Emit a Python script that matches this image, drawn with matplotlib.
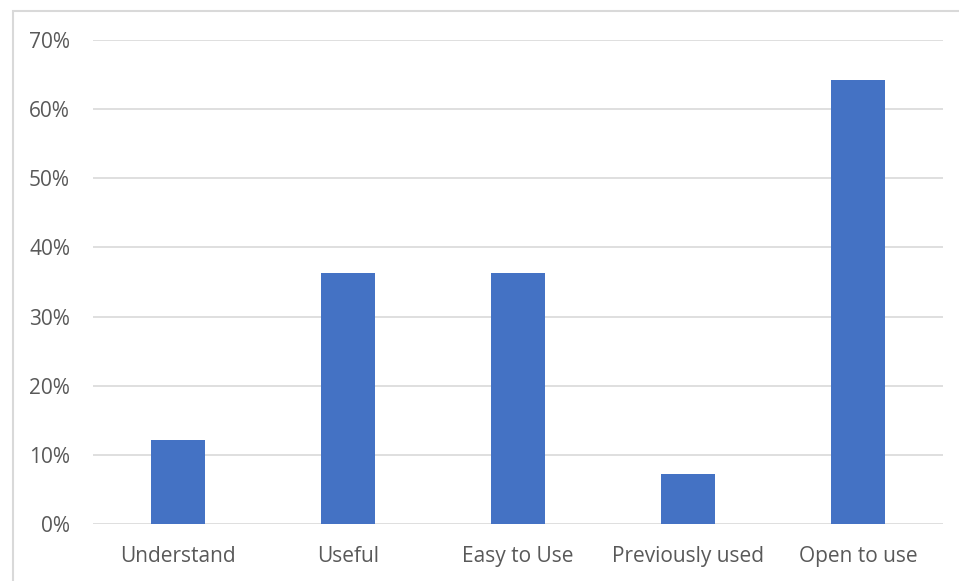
import matplotlib.pyplot as plt
import matplotlib.patches as mpatches
from matplotlib.ticker import FuncFormatter

plt.rcParams['font.family'] = ['Open Sans', 'DejaVu Sans']

categories = ['Understand', 'Useful', 'Easy to Use', 'Previously used', 'Open to use']
values = [12.1, 36.3, 36.3, 7.3, 64.2]
yticks = [0, 10, 20, 30, 40, 50, 60, 70]

fig = plt.figure(figsize=(9.59, 5.81), dpi=100)
ax = fig.add_axes([93/959, 1 - 524/581, 850/959, 484/581])

# chart area frame (cut off at right and bottom like the screenshot)
frame = mpatches.Rectangle((12.5/959, -0.1), 1.2, 1.1 - 10.5/581,
                           transform=fig.transFigure, fill=False,
                           edgecolor='#d9d9d9', linewidth=1.5, zorder=0)
fig.patches.append(frame)

x = range(len(categories))
ax.bar(x, values, width=0.32, color='#4472C4', zorder=3)

ax.set_xlim(-0.5, len(categories) - 0.5)
ax.set_ylim(0, 70)
ax.set_yticks(yticks)
ax.yaxis.set_major_formatter(FuncFormatter(lambda v, p: f'{v:.0f}%'))
ax.set_xticks(list(x))
ax.set_xticklabels(categories)

ax.grid(axis='y', color='#d9d9d9', linewidth=1.2, zorder=0)
for s in ax.spines.values():
    s.set_visible(False)
ax.tick_params(axis='both', length=0, labelsize=15, labelcolor='#595959')
ax.tick_params(axis='y', pad=16.5)
ax.tick_params(axis='x', pad=16)

fig.savefig('out.png', dpi=100)
